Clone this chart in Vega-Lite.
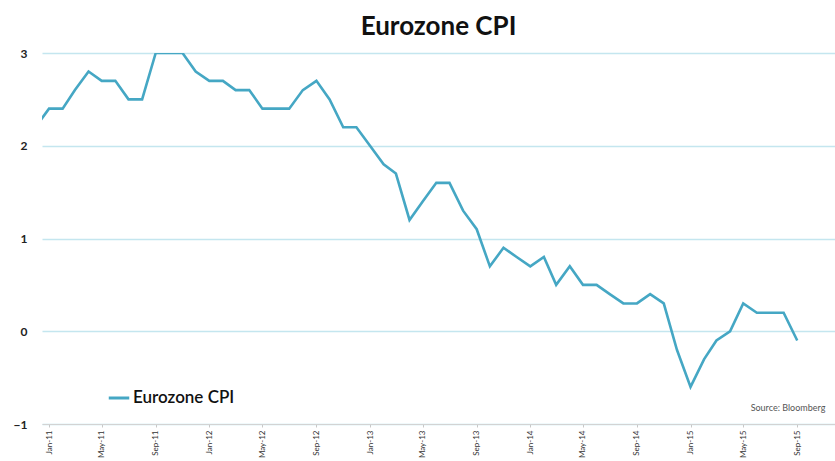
{
  "$schema": "https://vega.github.io/schema/vega-lite/v6.json",
  "width": 793,
  "height": 371,
  "autosize": "none",
  "padding": {"left": 42, "top": 53, "right": 0, "bottom": 37},
  "background": "white",
  "title": {
    "text": "Eurozone CPI",
    "anchor": "middle",
    "font": "Lato",
    "fontSize": 26,
    "fontWeight": "bold",
    "color": "#111111",
    "offset": 7
  },
  "data": {
    "values": [
      {"date": "2010-12-01T00:00:00", "cpi": 2.2, "series": "Eurozone CPI"},
      {"date": "2011-01-01T00:00:00", "cpi": 2.4, "series": "Eurozone CPI"},
      {"date": "2011-02-01T00:00:00", "cpi": 2.4, "series": "Eurozone CPI"},
      {"date": "2011-03-01T00:00:00", "cpi": 2.6, "series": "Eurozone CPI"},
      {"date": "2011-04-01T00:00:00", "cpi": 2.8, "series": "Eurozone CPI"},
      {"date": "2011-05-01T00:00:00", "cpi": 2.7, "series": "Eurozone CPI"},
      {"date": "2011-06-01T00:00:00", "cpi": 2.7, "series": "Eurozone CPI"},
      {"date": "2011-07-01T00:00:00", "cpi": 2.5, "series": "Eurozone CPI"},
      {"date": "2011-08-01T00:00:00", "cpi": 2.5, "series": "Eurozone CPI"},
      {"date": "2011-09-01T00:00:00", "cpi": 3.0, "series": "Eurozone CPI"},
      {"date": "2011-10-01T00:00:00", "cpi": 3.0, "series": "Eurozone CPI"},
      {"date": "2011-11-01T00:00:00", "cpi": 3.0, "series": "Eurozone CPI"},
      {"date": "2011-12-01T00:00:00", "cpi": 2.8, "series": "Eurozone CPI"},
      {"date": "2012-01-01T00:00:00", "cpi": 2.7, "series": "Eurozone CPI"},
      {"date": "2012-02-01T00:00:00", "cpi": 2.7, "series": "Eurozone CPI"},
      {"date": "2012-03-01T00:00:00", "cpi": 2.6, "series": "Eurozone CPI"},
      {"date": "2012-04-01T00:00:00", "cpi": 2.6, "series": "Eurozone CPI"},
      {"date": "2012-05-01T00:00:00", "cpi": 2.4, "series": "Eurozone CPI"},
      {"date": "2012-06-01T00:00:00", "cpi": 2.4, "series": "Eurozone CPI"},
      {"date": "2012-07-01T00:00:00", "cpi": 2.4, "series": "Eurozone CPI"},
      {"date": "2012-08-01T00:00:00", "cpi": 2.6, "series": "Eurozone CPI"},
      {"date": "2012-09-01T00:00:00", "cpi": 2.7, "series": "Eurozone CPI"},
      {"date": "2012-10-01T00:00:00", "cpi": 2.5, "series": "Eurozone CPI"},
      {"date": "2012-11-01T00:00:00", "cpi": 2.2, "series": "Eurozone CPI"},
      {"date": "2012-12-01T00:00:00", "cpi": 2.2, "series": "Eurozone CPI"},
      {"date": "2013-01-01T00:00:00", "cpi": 2.0, "series": "Eurozone CPI"},
      {"date": "2013-02-01T00:00:00", "cpi": 1.8, "series": "Eurozone CPI"},
      {"date": "2013-03-01T00:00:00", "cpi": 1.7, "series": "Eurozone CPI"},
      {"date": "2013-04-01T00:00:00", "cpi": 1.2, "series": "Eurozone CPI"},
      {"date": "2013-05-01T00:00:00", "cpi": 1.4, "series": "Eurozone CPI"},
      {"date": "2013-06-01T00:00:00", "cpi": 1.6, "series": "Eurozone CPI"},
      {"date": "2013-07-01T00:00:00", "cpi": 1.6, "series": "Eurozone CPI"},
      {"date": "2013-08-01T00:00:00", "cpi": 1.3, "series": "Eurozone CPI"},
      {"date": "2013-09-01T00:00:00", "cpi": 1.1, "series": "Eurozone CPI"},
      {"date": "2013-10-01T00:00:00", "cpi": 0.7, "series": "Eurozone CPI"},
      {"date": "2013-11-01T00:00:00", "cpi": 0.9, "series": "Eurozone CPI"},
      {"date": "2013-12-01T00:00:00", "cpi": 0.8, "series": "Eurozone CPI"},
      {"date": "2014-01-01T00:00:00", "cpi": 0.7, "series": "Eurozone CPI"},
      {"date": "2014-02-01T00:00:00", "cpi": 0.8, "series": "Eurozone CPI"},
      {"date": "2014-03-01T00:00:00", "cpi": 0.5, "series": "Eurozone CPI"},
      {"date": "2014-04-01T00:00:00", "cpi": 0.7, "series": "Eurozone CPI"},
      {"date": "2014-05-01T00:00:00", "cpi": 0.5, "series": "Eurozone CPI"},
      {"date": "2014-06-01T00:00:00", "cpi": 0.5, "series": "Eurozone CPI"},
      {"date": "2014-07-01T00:00:00", "cpi": 0.4, "series": "Eurozone CPI"},
      {"date": "2014-08-01T00:00:00", "cpi": 0.3, "series": "Eurozone CPI"},
      {"date": "2014-09-01T00:00:00", "cpi": 0.3, "series": "Eurozone CPI"},
      {"date": "2014-10-01T00:00:00", "cpi": 0.4, "series": "Eurozone CPI"},
      {"date": "2014-11-01T00:00:00", "cpi": 0.3, "series": "Eurozone CPI"},
      {"date": "2014-12-01T00:00:00", "cpi": -0.2, "series": "Eurozone CPI"},
      {"date": "2015-01-01T00:00:00", "cpi": -0.6, "series": "Eurozone CPI"},
      {"date": "2015-02-01T00:00:00", "cpi": -0.3, "series": "Eurozone CPI"},
      {"date": "2015-03-01T00:00:00", "cpi": -0.1, "series": "Eurozone CPI"},
      {"date": "2015-04-01T00:00:00", "cpi": 0.0, "series": "Eurozone CPI"},
      {"date": "2015-05-01T00:00:00", "cpi": 0.3, "series": "Eurozone CPI"},
      {"date": "2015-06-01T00:00:00", "cpi": 0.2, "series": "Eurozone CPI"},
      {"date": "2015-07-01T00:00:00", "cpi": 0.2, "series": "Eurozone CPI"},
      {"date": "2015-08-01T00:00:00", "cpi": 0.2, "series": "Eurozone CPI"},
      {"date": "2015-09-01T00:00:00", "cpi": -0.1, "series": "Eurozone CPI"}
    ]
  },
  "layer": [
    {
      "mark": {"type": "line", "strokeWidth": 2.6, "clip": true, "strokeJoin": "miter"},
      "encoding": {
        "x": {
          "field": "date",
          "type": "temporal",
          "scale": {
            "domain": [
              {"year": 2010, "month": 12, "date": 16},
              {"year": 2015, "month": 11, "date": 26}
            ]
          },
          "axis": {
            "title": null,
            "format": "%b-%y",
            "tickCount": {"interval": "month", "step": 4},
            "labelAngle": -90,
            "labelFont": "Lato",
            "labelFontSize": 8,
            "labelColor": "#333333",
            "labelPadding": 3,
            "domainColor": "#d3d3d3",
            "domainWidth": 1.2,
            "tickColor": "#c8c8c8",
            "tickSize": 3,
            "grid": false
          }
        },
        "y": {
          "field": "cpi",
          "type": "quantitative",
          "scale": {"domain": [-1, 3], "nice": false, "zero": false},
          "axis": {
            "title": null,
            "values": [-1, 0, 1, 2, 3],
            "format": "d",
            "labelFont": "Lato",
            "labelFontSize": 12,
            "labelFontWeight": "bold",
            "labelColor": "#222222",
            "labelPadding": 15,
            "ticks": false,
            "domain": false,
            "grid": true,
            "gridColor": "#c4e6ef",
            "gridWidth": 1.5
          }
        },
        "color": {
          "field": "series",
          "type": "nominal",
          "scale": {"range": ["#45a7c4"]},
          "legend": {
            "title": null,
            "orient": "none",
            "legendX": 65,
            "legendY": 333,
            "symbolType": "stroke",
            "symbolStrokeWidth": 3,
            "symbolSize": 420,
            "labelFont": "Lato",
            "labelFontSize": 17,
            "labelFontWeight": 600,
            "labelColor": "#111111",
            "labelOffset": 2,
            "padding": 0
          }
        }
      }
    },
    {
      "data": {"values": [{"note": "Source: Bloomberg"}]},
      "mark": {
        "type": "text",
        "align": "right",
        "baseline": "middle",
        "font": "Lato",
        "fontSize": 9,
        "color": "#555555"
      },
      "encoding": {
        "x": {"datum": {"year": 2015, "month": 11, "date": 4}, "type": "temporal"},
        "y": {"datum": -0.83, "type": "quantitative"},
        "text": {"field": "note"}
      }
    }
  ],
  "config": {
    "view": {"stroke": null}
  }
}
